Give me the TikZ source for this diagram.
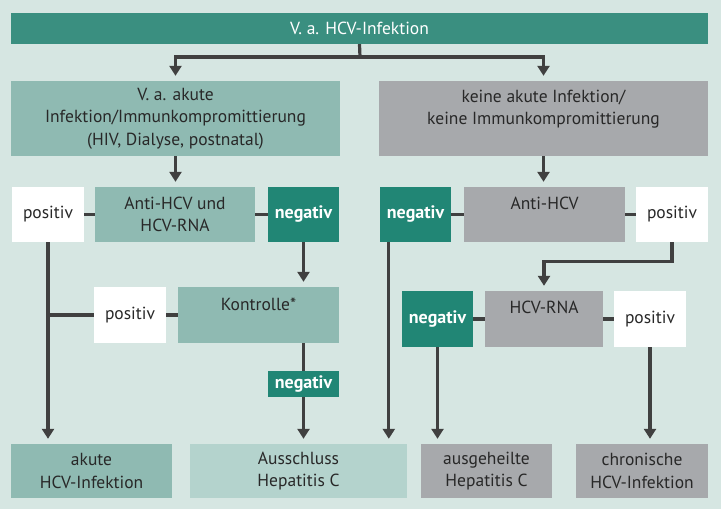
\documentclass[tikz,border=0pt]{standalone}
\usepackage{fontspec}
\setmainfont{PT Sans}
\usepackage{tikz}
\usetikzlibrary{arrows.meta,positioning}
\definecolor{bgmint}{RGB}{214,230,226}
\definecolor{barteal}{RGB}{58,143,128}
\definecolor{midteal}{RGB}{143,186,178}
\definecolor{paleteal}{RGB}{180,211,205}
\definecolor{darkteal}{RGB}{33,134,117}
\definecolor{boxgrey}{RGB}{167,169,172}
\definecolor{linegrey}{RGB}{64,64,64}
\definecolor{textgrey}{RGB}{40,40,40}
\tikzstyle{arrow} = [line width=3.2bp,draw=linegrey,-{Triangle[width=12bp,length=10bp]},shorten >=5bp]

\begin{document}
\begin{tikzpicture}[x=1bp,y=-1bp]
                \tikzstyle{box}=[inner sep=0pt,align=center,text=textgrey,font=\fontsize{17.5bp}{22.5bp}\selectfont]
                \tikzstyle{tealbox}=[box,fill=midteal]
                \tikzstyle{greybox}=[box,fill=boxgrey]
                \tikzstyle{posbox}=[box,fill=white,minimum width=72bp]
                \tikzstyle{negbox}=[box,fill=darkteal,text=white,font=\fontsize{18bp}{22.5bp}\selectfont\bfseries,minimum width=71bp]
                \tikzstyle{link}=[line width=3.2bp,draw=linegrey]

                \useasboundingbox (0,0) rectangle (721,513);
                \fill [bgmint] (0,0) rectangle (721,509);

                % top level
                \node [box,fill=barteal,text=white,minimum width=697bp,minimum height=31bp] (suspect) at (359.5,28.5) {V. a. HCV-Infektion};
                \node [tealbox,minimum width=329bp,minimum height=75bp] (acute) at (175.5,118.5)
                {V. a. akute\\Infektion/Immunkompromittierung\\(HIV, Dialyse, postnatal)};
                \node [greybox,minimum width=329bp,minimum height=75bp] (chronicpath) at (543.5,118.5)
                {keine akute Infektion/\\keine Immunkompromittierung\\ \mbox{}};

                % left branch
                \node [posbox,minimum height=55bp] (posA) at (48,214.5) {positiv};
                \node [tealbox,minimum width=160bp,minimum height=55bp] (testA) at (175,214.5) {Anti-HCV und\\HCV-RNA};
                \node [negbox,minimum height=55bp] (negA) at (303.5,214.5) {negativ};
                \node [posbox,minimum height=56bp] (posC) at (130,315) {positiv};
                \node [tealbox,minimum width=161bp,minimum height=56bp] (ctrl) at (258.5,315) {Kontrolle*\\ \mbox{}};
                \node [negbox,minimum height=26bp] (negC) at (303.5,384) {negativ};

                % right branch
                \node [negbox,minimum height=55bp] (negB) at (415.5,214.5) {negativ};
                \node [greybox,minimum width=161bp,minimum height=55bp] (testB) at (544.5,214.5) {Anti-HCV\\ \mbox{}};
                \node [posbox,minimum height=55bp] (posB) at (672,214.5) {positiv};
                \node [negbox,minimum height=56bp] (negD) at (437.5,319) {negativ};
                \node [greybox,minimum width=118bp,minimum height=56bp] (testD) at (544,319) {HCV-RNA\\ \mbox{}};
                \node [posbox,minimum height=56bp] (posD) at (650,319) {positiv};

                % results
                \node [tealbox,minimum width=161bp,minimum height=54bp] (acuteres) at (91.5,471) {akute\\HCV-Infektion};
                \node [box,fill=paleteal,minimum width=217bp,minimum height=54bp] (excl) at (298.5,471) {Ausschluss\\Hepatitis C};
                \node [greybox,minimum width=131bp,minimum height=54bp] (healed) at (486.5,471) {ausgeheilte\\Hepatitis C};
                \node [greybox,minimum width=132bp,minimum height=54bp] (chronic) at (642,471) {chronische\\HCV-Infektion};

                \coordinate (split) at (360,57);
                \coordinate (negBdrop) at ([xshift=9bp]negB.south west);

                \draw [link] (suspect.south) -- (split);
                \draw [arrow] (split) -| (acute.north);
                \draw [arrow] (split) -| (chronicpath.north);
                \draw [arrow] (acute.south) -- (acute.south |- testA.north);
                \draw [arrow] (chronicpath.south) -- (chronicpath.south |- testB.north);

                \draw [link] (posA) -- (testA);
                \draw [link] (testA) -- (negA);
                \draw [link] (negB) -- (testB);
                \draw [link] (testB) -- (posB);
                \draw [link] (posC) -- (ctrl);
                \draw [link] (posC.west) -- (posA |- posC);
                \draw [link] (negD) -- (testD);
                \draw [link] (testD) -- (posD);

                \draw [arrow] (posA.south) -- (posA |- acuteres.north);
                \draw [arrow] (negA.south) -- (negA |- ctrl.north);
                \draw [link] (negA |- ctrl.south) -- (negC.north);
                \draw [arrow] (negC.south) -- (negC |- excl.north);
                \draw [arrow] (negBdrop) -- (negBdrop |- excl.north);
                \draw [arrow] (posB.south) -- ++(0,19) -| (testD.north);
                \draw [arrow] (negD.south) -- (negD |- healed.north);
                \draw [arrow] (posD.south) -- (posD |- chronic.north);
            \end{tikzpicture}
\end{document}
